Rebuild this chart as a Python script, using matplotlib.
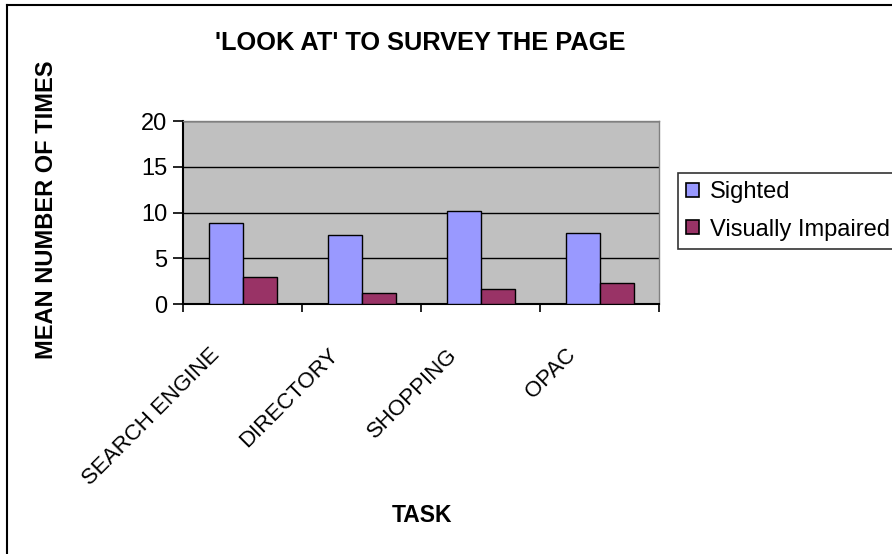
import matplotlib
matplotlib.use("Agg")
import matplotlib.pyplot as plt
from matplotlib.patches import Patch
from matplotlib.lines import Line2D
from matplotlib.transforms import blended_transform_factory, offset_copy
import numpy as np

plt.rcParams['font.family'] = ['Liberation Sans', 'DejaVu Sans']

categories = ["SEARCH ENGINE", "DIRECTORY", "SHOPPING", "OPAC"]
series_names = ["Sighted", "Visually Impaired"]
sighted = [8.85, 7.55, 10.15, 7.75]
impaired = [2.95, 1.2, 1.65, 2.3]
y_ticks = [0, 5, 10, 15, 20]

colors = ["#9999FF", "#993366"]

W, H = 892, 554
fig = plt.figure(figsize=(W / 100, H / 100), dpi=100)
fig.patch.set_facecolor("white")

ax = fig.add_axes([183.3 / W, 1 - 304.3 / H, (659 - 183.3) / W, (304.3 - 121) / H])
ax.set_facecolor("#C0C0C0")

x = np.arange(len(categories))
bw = 1 / 3.5
ax.bar(x - bw / 2, sighted, bw, color=colors[0], edgecolor="black", linewidth=1.0, zorder=3)
ax.bar(x + bw / 2, impaired, bw, color=colors[1], edgecolor="black", linewidth=1.0, zorder=3)

ax.set_xlim(-0.5, len(categories) - 0.5)
ax.set_ylim(0, 20)
ax.set_yticks(y_ticks)
ax.set_yticklabels([str(t) for t in y_ticks], fontsize=17)
ax.yaxis.grid(True, color="black", linewidth=1.0, zorder=1)
ax.set_axisbelow(True)

# category boundaries carry the tick marks
ax.set_xticks(np.arange(len(categories) + 1) - 0.5)
ax.set_xticklabels([])
ax.tick_params(axis="x", direction="out", length=6, width=1.2, color="black")
ax.tick_params(axis="y", direction="out", length=7, width=1.2, color="black", pad=4.5)

for side in ("top", "right"):
    ax.spines[side].set_color("#808080")
    ax.spines[side].set_linewidth(1.0)
for side in ("left", "bottom"):
    ax.spines[side].set_color("black")
    ax.spines[side].set_linewidth(1.5)

# rotated category labels, anchored below each category centre
trans = blended_transform_factory(ax.transData, ax.transAxes)
for xi, name in zip(x, categories):
    t = offset_copy(trans, fig=fig, x=-34, y=-40, units="dots")
    ax.text(xi, 0, name, transform=t, rotation=45, rotation_mode="anchor",
            ha="right", va="top", fontsize=16)

fig.text(420 / W, 1 - 43 / H, "'LOOK AT' TO SURVEY THE PAGE", ha="center", va="center",
         fontsize=18.3, fontweight="bold")
fig.text(422 / W, 1 - 516 / H, "TASK", ha="center", va="center", fontsize=16.5, fontweight="bold")
fig.text(47 / W, 1 - 210 / H, "MEAN NUMBER OF TIMES", ha="center", va="center",
         rotation=90, fontsize=17, fontweight="bold")

handles = [Patch(facecolor=c, edgecolor="black", linewidth=1.2) for c in colors]
leg = fig.legend(handles, series_names, loc="upper left", bbox_to_anchor=(678 / W, 1 - 173 / H),
                 fontsize=17, frameon=True, fancybox=False, edgecolor="black",
                 handlelength=0.55, handleheight=0.55, handletextpad=0.45,
                 borderpad=0.35, labelspacing=0.65, borderaxespad=0)
leg.get_frame().set_linewidth(1.2)

# outer chart border (top and left edges fall inside the canvas)
fig.add_artist(Line2D([7 / W, 7 / W], [0, 1 - 5 / H], color="black", linewidth=1.5))
fig.add_artist(Line2D([7 / W, 1], [1 - 5 / H, 1 - 5 / H], color="black", linewidth=1.5))

fig.savefig("out.png", dpi=100)
